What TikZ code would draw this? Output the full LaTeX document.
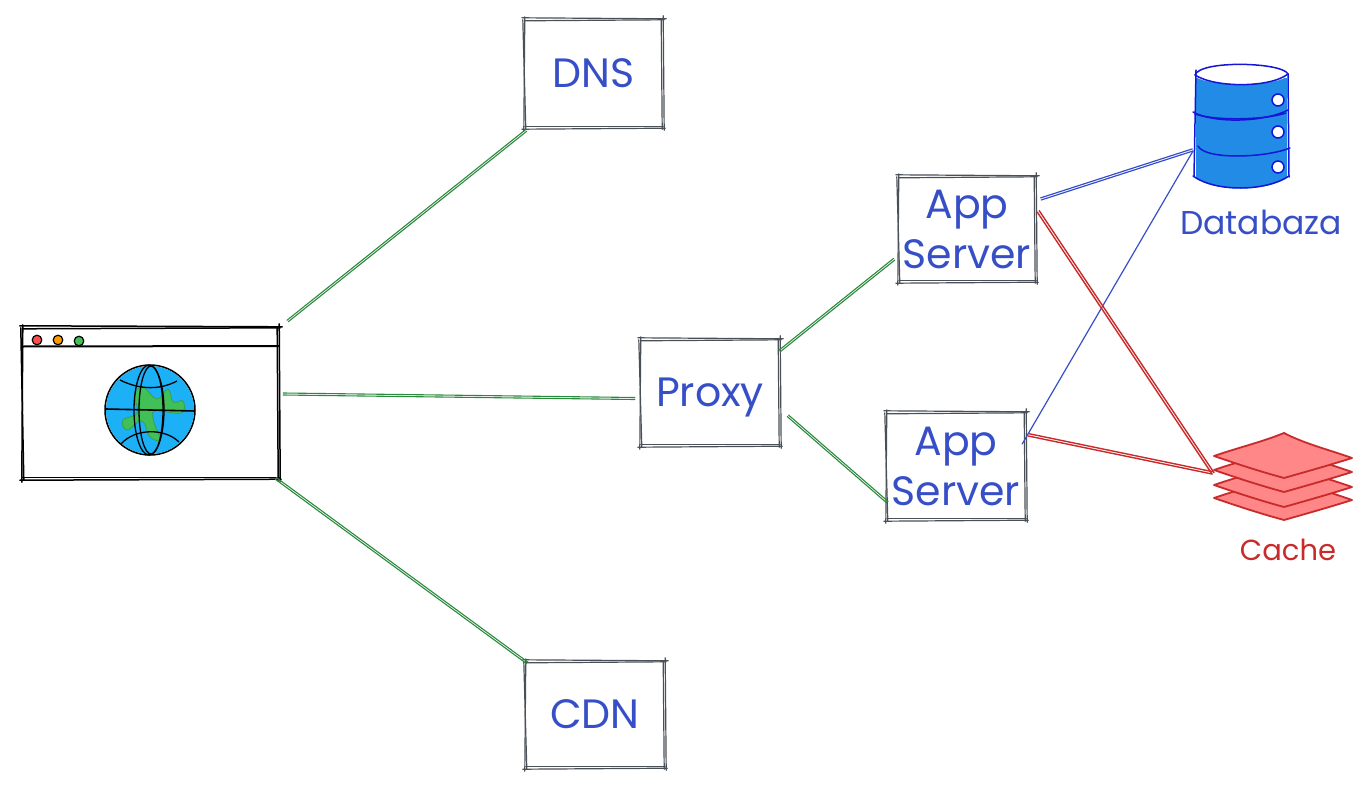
\documentclass[tikz,border=0pt]{standalone}
\usepackage{fontspec}
\setmainfont{Poppins}
\usetikzlibrary{calc, positioning}

\definecolor{boxgray}{HTML}{495057}
\definecolor{textblue}{HTML}{364FC7}
\definecolor{linkgreen}{HTML}{2B8A3E}
\definecolor{cachered}{HTML}{C92A2A}
\definecolor{cachefill}{HTML}{FF8787}
\definecolor{dbblue}{HTML}{1515D8}
\definecolor{dbfill}{HTML}{228BE6}
\definecolor{globefill}{HTML}{1CB0F6}
\definecolor{landgreen}{HTML}{40C057}

\tikzset{
  serverbox/.style={inner sep=0pt, align=center, text=textblue,
    font=\fontsize{41}{50}\selectfont},
  caption/.style={inner sep=0pt, font=\fontsize{29}{34}\selectfont},
  sketch/.style={boxgray, line width=1.2pt, line cap=round},
  greenlink/.style={linkgreen, line width=1.1pt, line cap=round},
  bluelink/.style={textblue, line width=1.2pt, line cap=round},
  redlink/.style={cachered, line width=1.4pt, line cap=round},
  dbline/.style={dbblue, line width=1.5pt, line cap=round},
}

% two strokes, slightly apart
\newcommand{\twostrokes}[4][2pt]{
  \coordinate (strokeA) at (#3);
  \coordinate (strokeB) at (#4);
  \draw[#2] (strokeA) -- (strokeB);
  \draw[#2] ($(strokeA)!#1!90:(strokeB)$) -- ($(strokeB)!#1!-90:(strokeA)$);
}
\newcommand{\sketchbox}[2]{
  \draw[#1] ($(#2.north west)+(-2,-1)$) -- ($(#2.north east)+(3,0)$);
  \draw[#1] ($(#2.north west)+(1,2)$) -- ($(#2.north east)+(1,1)$);
  \draw[#1] ($(#2.north east)+(0,-3)$) -- ($(#2.south east)+(1,2)$);
  \draw[#1] ($(#2.north east)+(-2,1)$) -- ($(#2.south east)+(-1,1)$);
  \draw[#1] ($(#2.south east)+(2,0)$) -- ($(#2.south west)+(-2,1)$);
  \draw[#1] ($(#2.south east)+(0,-1.5)$) -- ($(#2.south west)+(1,-1.5)$);
  \draw[#1] ($(#2.south west)+(0,3)$) -- ($(#2.north west)+(1,-2)$);
  \draw[#1] ($(#2.south west)+(2,1)$) -- ($(#2.north west)+(-1,1)$);
}

\begin{document}
\begin{tikzpicture}[x=1pt, y=-1pt]
\useasboundingbox (0,0) rectangle (1371,787);

% browser window
\node[minimum width=257pt, minimum height=152pt, inner sep=0pt] (browser) at (150.5,403) {};
\sketchbox{black, line width=1.5pt, line cap=round}{browser}
\draw[black, line width=2pt] (22,346.5) -- (279,346);
\foreach \bx/\by/\bcol in {37/340/red!70!white, 58/340/orange!80!yellow, 79/341/landgreen}
  \draw[black, line width=1.2pt, fill=\bcol] (\bx,\by) circle (4.8);

% globe
\fill[globefill] (150,410) circle (44);
\draw[landgreen!85!black, fill=landgreen, line width=0.8pt] plot[smooth cycle, tension=0.7] coordinates
  {(143,387) (157,399) (168,389) (173,402) (183,401) (181,413) (155,411) (154,422)
   (160,439) (150,437) (142,421) (127,430) (123,420) (137,413) (135,395)};
\draw[black, line width=1.5pt] (150,410) circle (45);
\draw[black, line width=1.3pt] (149,410) ellipse (15 and 45);
\draw[black, line width=1.3pt] (151,410) ellipse (12 and 44);
\draw[black, line width=1.6pt] (106,409) -- (195,411);
\draw[black, line width=1.3pt] (120,380) .. controls (140,390) and (160,390) .. (177,381);
\draw[black, line width=1.3pt] (121,444) .. controls (135,428) and (165,428) .. (179,442);

% database
\fill[dbfill] (1196,78) -- (1196,178) .. controls (1215,192) and (1265,192) .. (1287,178) -- (1287,78) -- cycle;
\fill[white] (1241,75) ellipse (46 and 9);
\draw[dbline] (1195,75) .. controls (1200,60) and (1282,62) .. (1288,74);
\draw[dbline] (1195,75) .. controls (1215,88) and (1270,88) .. (1288,74);
\draw[dbline] (1196,70) -- (1194,176);
\draw[dbline] (1288,74) -- (1289,177);
\draw[dbline] (1193,112) .. controls (1215,124) and (1265,122) .. (1288,110);
\draw[dbline] (1195,114) .. controls (1215,121) and (1265,120) .. (1286,113);
\draw[dbline] (1198,146) .. controls (1205,160) and (1265,158) .. (1290,148);
\draw[dbline] (1193,176) .. controls (1215,192) and (1265,192) .. (1289,176);
\foreach \ky in {100,132,167}
  \draw[dbline, fill=white] (1278,\ky) circle (6);
\coordinate (dbport) at (1193,151);
\node[caption, text=textblue, font=\fontsize{33}{36}\selectfont] (dblabel) at (1261,222) {Databaza};

% cache
\foreach \dy in {42,29,14,0}
  \draw[cachered, line width=1.8pt, fill=cachefill, line join=round]
    (1214,456+\dy) .. controls (1240,447+\dy) and (1262,442+\dy) .. (1284,433+\dy)
    .. controls (1305,444+\dy) and (1330,450+\dy) .. (1352,458+\dy)
    .. controls (1330,465+\dy) and (1305,472+\dy) .. (1284,478+\dy)
    .. controls (1262,472+\dy) and (1240,465+\dy) .. (1214,456+\dy) -- cycle;
\coordinate (cacheport) at (1212,474);
\node[caption, text=cachered] (cachelabel) at (1288,550) {Cache};

% servers
\node[serverbox, minimum width=139pt, minimum height=109pt] (dns) at (593.5,73.5) {DNS};
\node[serverbox, minimum width=140pt, minimum height=107pt] (proxy) at (710,392.5) {\raisebox{0pt}[\height][0pt]{Proxy}};
\node[serverbox, minimum width=138pt, minimum height=106pt] (app1) at (967,229) {App\\Server};
\node[serverbox, minimum width=140pt, minimum height=108pt] (app2) at (956,466) {App\\Server};
\node[serverbox, minimum width=140pt, minimum height=107pt] (cdn) at (595,714.5) {CDN};
\foreach \n in {dns,proxy,app1,app2,cdn} {
  \sketchbox{sketch}{\n}
}

% links
\twostrokes{greenlink}{$(browser.north east)+(9,-5)$}{$(dns.south west)+(3,3)$}
\twostrokes{greenlink}{$(browser.east)+(4,-8)$}{$(proxy.west)+(-5,7)$}
\twostrokes{greenlink}{$(browser.south east)+(-4,0)$}{$(cdn.north west)+(2,3)$}
\twostrokes{greenlink}{$(proxy.north east)+(0,13)$}{$(app1.west)+(-3,31)$}
\twostrokes{greenlink}{$(proxy.east)+(7,24)$}{$(app2.west)+(1,37)$}
\twostrokes[2.2pt]{bluelink}{$(app1.east)+(5,-29)$}{dbport}
\draw[bluelink] ($(app2.east)+(-4,-22)$) -- (dbport);
\twostrokes[2.4pt]{redlink}{$(app1.east)+(1,-17)$}{cacheport}
\twostrokes[2.4pt]{redlink}{$(app2.east)+(2,-30)$}{cacheport}
\end{tikzpicture}
\end{document}
